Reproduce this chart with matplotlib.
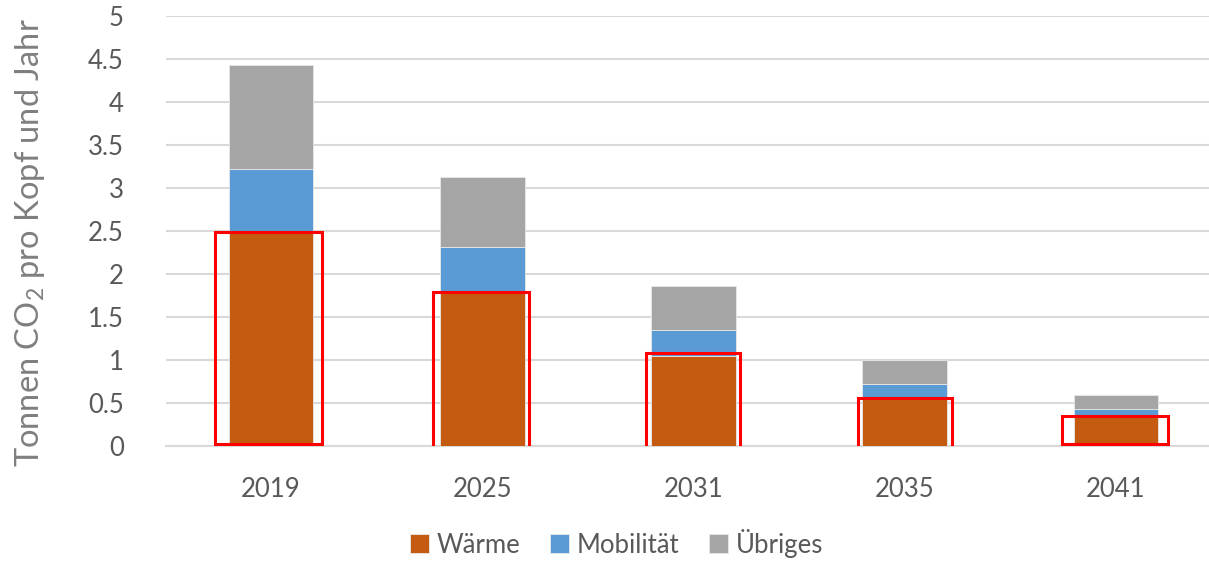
import matplotlib
matplotlib.use('Agg')
import matplotlib.pyplot as plt
from matplotlib.patches import Rectangle
from matplotlib.ticker import FuncFormatter
import numpy as np

# Daten (Tonnen CO2 pro Kopf und Jahr)
jahre = ['2019', '2025', '2031', '2035', '2041']
waerme = [2.49, 1.79, 1.05, 0.56, 0.35]
mobilitaet = [0.73, 0.52, 0.30, 0.16, 0.08]
uebriges = [1.21, 0.82, 0.51, 0.28, 0.16]

# rote Markierungen (links, rechts, unten, oben) relativ zur Kategorie
box_links = [-0.265, -0.232, -0.223, -0.223, -0.256]
box_rechts = [0.242, 0.223, 0.218, 0.223, 0.246]
box_unten = [0.02, -0.02, -0.02, -0.02, 0.02]
box_oben = [2.49, 1.79, 1.08, 0.56, 0.35]

plt.rcParams['font.family'] = ['Lato', 'DejaVu Sans']
plt.rcParams['mathtext.fontset'] = 'custom'
plt.rcParams['mathtext.rm'] = 'Lato'
plt.rcParams['mathtext.it'] = 'Lato'

fig = plt.figure(figsize=(12.09, 5.61), dpi=100)
ax = fig.add_axes([0.1369, 0.205, 0.8734, 0.7665])

x = np.arange(len(jahre))
breite = 0.40
bottom2 = np.array(waerme)
bottom3 = bottom2 + np.array(mobilitaet)

ax.bar(x, waerme, breite, color='#C55A11', label='Wärme', zorder=3,
       edgecolor='#E8E8E8', linewidth=0.6)
ax.bar(x, mobilitaet, breite, bottom=bottom2, color='#5B9BD5', label='Mobilität',
       zorder=3, edgecolor='#E8E8E8', linewidth=0.6)
ax.bar(x, uebriges, breite, bottom=bottom3, color='#A5A5A5', label='Übriges',
       zorder=3, edgecolor='#E8E8E8', linewidth=0.6)

for i in range(len(jahre)):
    r = Rectangle((x[i] + box_links[i], box_unten[i]),
                  box_rechts[i] - box_links[i], box_oben[i] - box_unten[i],
                  fill=False, edgecolor='#FF0000', linewidth=2.2, zorder=4)
    ax.add_patch(r)

ax.set_xlim(-0.5, len(jahre) - 0.5)
ax.set_ylim(0, 5)
ax.set_yticks(np.arange(0, 5.01, 0.5))
ax.yaxis.set_major_formatter(FuncFormatter(lambda v, p: f'{v:g}'))
ax.set_xticks(x)
ax.set_xticklabels(jahre)

ax.grid(axis='y', color='#D9D9D9', linewidth=1.5, zorder=0)
for s in ['top', 'right', 'left']:
    ax.spines[s].set_visible(False)
ax.spines['bottom'].set_color('#D9D9D9')
ax.spines['bottom'].set_linewidth(1.5)
ax.tick_params(axis='both', length=0, labelsize=18.5, labelcolor='#595959')
ax.tick_params(axis='y', pad=30)
ax.tick_params(axis='x', pad=22)

fig.text(30 / 1209, 0.567, 'Tonnen CO$_2$ pro Kopf und Jahr', rotation=90,
         ha='center', va='center', fontsize=23.5, color='#7F7F7F')

fig.legend(loc='lower center', bbox_to_anchor=(0.51, -0.035), ncol=3,
           frameon=False, fontsize=18.5, handlelength=0.75, handleheight=0.75,
           handletextpad=0.3, columnspacing=1.15, labelcolor='#595959')

plt.savefig('out.png', dpi=100)
